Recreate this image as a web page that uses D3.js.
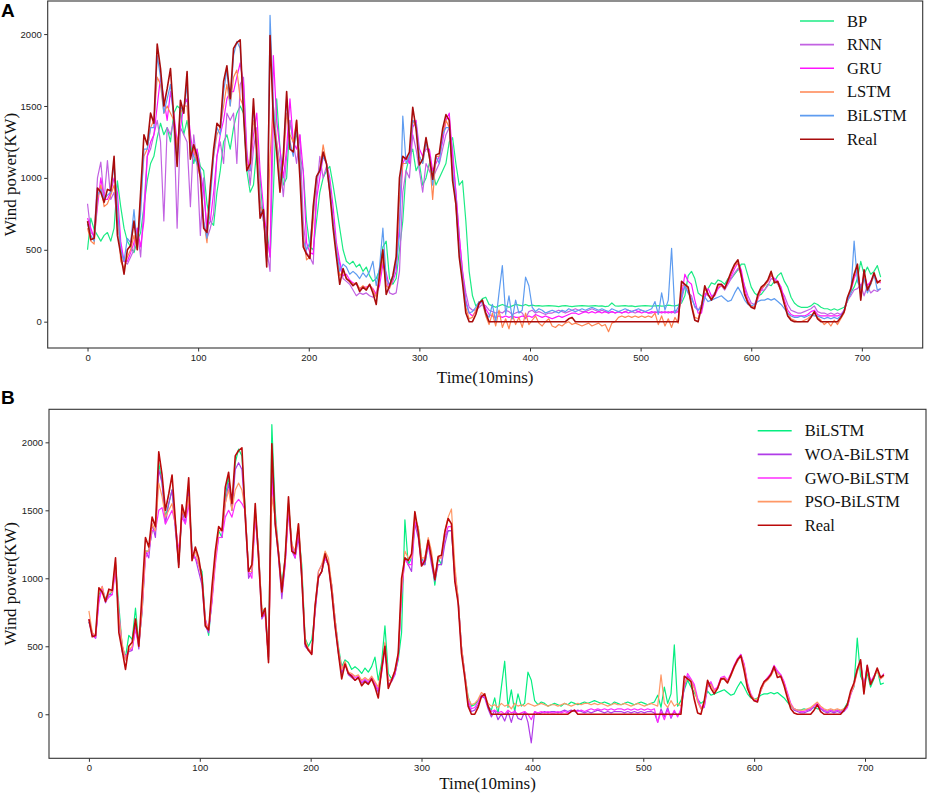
<!DOCTYPE html>
<html>
<head>
<meta charset="utf-8">
<script src="https://cdn.jsdelivr.net/npm/d3@7"></script>
<style>
  body { margin: 0; background: #fff; }
  .tick text { font-family: "Liberation Sans", Arial, sans-serif; font-size: 9.5px; fill: #222; }
  .tick line { stroke: #333; }
  .axisLabel { font-family: "Liberation Serif", "Times New Roman", serif; font-size: 17px; fill: #111; }
  .legendText { font-family: "Liberation Serif", "Times New Roman", serif; font-size: 16.5px; fill: #111; }
  .panelLabel { font-family: "Liberation Sans", Arial, sans-serif; font-size: 19px; font-weight: bold; fill: #000; }
</style>
</head>
<body>
<div id="chart"></div>
<script>
// values, one value every 3 steps (t = 0,3,...,717)
const step = 3;

const real = [
  700,570,580,930,900,830,920,910,1150,600,
  470,330,500,530,700,500,900,1300,1230,1450,
  1380,1930,1760,1500,1620,1760,1420,1080,1540,1450,
  1740,1130,1230,1150,1000,650,620,940,1200,1380,
  1350,1670,1780,1550,1900,1940,1960,1450,1050,1100,
  1550,1150,720,780,380,1990,1400,1180,900,1150,
  1600,1200,1180,1400,1000,520,470,440,800,1010,
  1050,1180,1100,900,650,450,260,370,300,280,
  250,270,210,240,220,260,200,120,330,500,
  190,250,320,450,1000,1150,1130,1180,1490,1340,
  1090,1130,1280,1150,990,1160,1170,1340,1440,1400,
  980,820,450,270,60,0,0,50,130,150,
  60,0,0,0,0,0,0,0,0,0,
  0,0,0,0,0,0,0,0,0,0,
  0,0,0,0,0,20,30,0,0,0,
  0,0,0,0,0,0,0,0,0,0,
  0,0,0,0,0,0,0,0,0,0,
  0,0,0,0,0,0,0,0,0,280,
  260,240,110,10,0,100,250,190,150,190,
  260,260,230,290,350,400,430,320,190,130,
  100,90,190,240,260,290,350,270,280,210,
  120,40,10,0,0,0,0,0,30,70,
  20,0,0,0,0,0,0,30,70,170,
  230,330,400,150,360,220,270,340,270,290
];

const bp = [
  500,720,640,600,560,600,620,560,650,980,
  800,650,560,520,480,560,620,800,980,1100,
  1150,1280,1380,1300,1350,1250,1450,1500,1480,1300,
  1400,1250,1100,1200,1080,1050,820,700,670,900,
  1050,1250,1300,1200,1350,1450,1500,1450,1050,900,
  950,1200,1000,700,650,450,900,1550,1200,950,
  1000,1400,1250,1300,1150,1050,700,520,500,700,
  900,1000,1050,1080,950,800,650,500,420,400,
  420,380,400,350,380,320,280,300,360,520,
  560,300,260,300,500,700,1050,1150,1200,1050,
  1100,950,1000,1100,1050,950,1000,1050,1100,1250,
  1280,1100,950,980,700,350,180,110,130,160,
  170,120,110,100,110,120,110,100,110,120,
  115,110,120,110,115,110,112,108,110,112,
  110,108,105,110,112,108,105,108,110,112,
  110,108,110,112,108,110,105,108,130,110,
  108,110,112,108,110,105,108,110,112,110,
  108,110,112,108,110,115,112,110,115,130,
  180,320,350,300,200,180,170,230,270,260,
  290,280,260,300,300,330,360,400,400,320,
  240,200,180,190,220,260,250,280,320,340,
  280,240,170,130,110,100,100,100,110,130,
  120,100,90,90,80,90,80,90,100,140,
  200,240,300,420,330,380,330,350,390,310
];

const rnn = [
  820,620,600,1000,1110,850,1120,850,900,700,
  520,420,400,450,500,650,450,800,1150,1200,
  1300,1400,1250,700,1350,1300,1400,650,1350,1300,
  1250,800,1300,1100,600,1000,580,650,750,1150,
  1250,1100,1450,1400,1450,1100,1650,1700,1200,950,
  1200,1350,850,700,500,350,1400,1250,1100,870,
  1150,1400,1250,1100,1300,700,480,450,400,900,
  1150,1000,1080,900,700,500,400,300,280,260,
  220,180,200,190,200,180,170,200,300,420,
  300,200,190,200,350,900,1050,1000,1300,1200,
  1050,900,1100,1050,1000,1050,1100,1200,1300,1350,
  1200,900,600,350,200,100,80,80,100,120,
  110,80,70,60,70,60,80,70,50,60,
  70,60,20,70,80,60,70,60,50,60,
  60,70,80,70,60,70,80,90,80,70,
  70,80,90,80,70,80,70,60,70,60,
  70,60,70,80,70,60,70,80,70,60,
  60,70,60,70,60,70,60,80,70,150,
  250,200,180,100,80,120,200,180,170,200,
  230,250,220,260,300,340,370,330,250,180,
  130,120,180,220,220,250,300,290,260,220,
  180,120,80,70,60,60,70,80,90,110,
  70,60,60,50,60,50,60,50,70,150,
  180,220,230,260,180,250,200,220,210,230
];

const gru = [
  720,650,580,800,1000,850,850,900,1000,900,
  560,420,420,480,550,650,520,700,1150,1250,
  1300,1500,1700,1550,1400,1600,1450,1250,1350,1500,
  1550,1300,1150,1200,1050,900,650,700,900,1150,
  1300,1400,1550,1600,1600,1700,1800,1650,1150,1050,
  1300,1450,1050,800,600,450,1850,1400,1200,1000,
  1200,1550,1250,1200,1300,1050,550,480,470,850,
  1000,1150,1100,1000,800,550,420,320,330,290,
  270,260,230,240,240,250,230,190,250,400,
  340,240,280,350,700,1100,1150,1100,1350,1400,
  1200,1150,1200,1200,1050,1100,1150,1250,1400,1450,
  1150,900,600,350,150,60,40,70,120,140,
  90,50,40,30,40,30,40,30,40,30,
  30,40,30,40,30,50,40,30,40,30,
  20,30,40,30,40,50,60,60,50,60,
  70,60,70,60,70,60,70,60,70,60,
  70,60,70,60,70,80,70,60,70,60,
  70,60,70,60,70,60,70,60,70,180,
  330,280,260,150,60,60,170,230,180,180,
  230,260,240,270,320,370,410,360,230,150,
  110,100,160,220,250,280,320,300,280,240,
  150,80,50,40,40,40,40,50,70,80,
  50,40,40,40,40,40,40,50,80,150,
  210,300,360,220,330,250,280,320,280,270
];

const lstm = [
  650,560,540,850,950,800,820,880,950,800,
  420,370,450,500,600,500,850,1150,1200,1350,
  1400,1700,1650,1450,1500,1450,1400,1200,1450,1500,
  1500,1150,1200,1100,1000,700,550,900,1150,1300,
  1350,1500,1650,1500,1700,1750,1550,1500,1100,1050,
  1400,1300,800,750,420,1150,1500,1250,1000,1100,
  1450,1300,1250,1400,1100,600,430,450,700,1000,
  1050,1230,1100,950,700,500,320,350,300,280,
  260,270,230,250,230,260,220,170,300,450,
  250,230,300,420,850,1100,1100,1150,1400,1350,
  1150,1100,1250,1150,850,1150,1150,1300,1400,1350,
  1050,800,500,300,100,20,30,80,140,130,
  40,-20,60,-30,80,-40,20,-50,50,-20,
  30,-40,60,-20,10,40,-10,-30,0,20,
  -30,-40,-20,-30,-10,0,-20,-10,-20,-30,
  -20,-10,-30,-20,-10,-30,-20,-70,-10,0,
  30,40,30,40,30,40,30,40,30,40,
  30,60,-20,40,-30,20,-40,30,-10,250,
  250,230,120,30,20,110,230,190,160,190,
  250,250,230,280,340,390,410,310,200,140,
  110,100,170,230,250,280,330,280,270,210,
  130,60,20,10,0,0,10,20,40,60,
  30,10,-20,0,-30,10,-20,20,60,160,
  220,320,380,180,330,230,260,320,270,280
];

const bilstm = [
  680,600,560,880,920,850,880,900,1100,800,
  500,420,580,550,780,520,750,1200,1200,1350,
  1350,1850,1700,1450,1550,1650,1400,1100,1500,1450,
  1650,1200,1150,1100,1050,700,580,850,1150,1350,
  1300,1600,1750,1500,1850,1950,1900,1500,1050,1050,
  1500,1200,750,780,420,2130,1500,1200,950,1150,
  1550,1250,1150,1350,1100,560,500,550,750,1000,
  1050,1150,1100,950,700,500,350,400,380,330,
  350,330,300,340,310,350,420,250,380,650,
  300,260,300,400,600,1430,1100,1150,1400,1380,
  1150,1100,1250,1150,950,1150,1100,1300,1350,1350,
  1050,850,500,300,130,60,70,100,140,130,
  60,30,120,0,200,390,50,180,20,150,
  60,80,310,250,100,70,90,80,60,70,
  80,70,60,80,70,90,80,70,80,90,
  80,90,100,90,80,90,80,70,90,80,
  70,80,90,80,70,80,90,80,70,80,
  90,140,50,200,80,150,510,60,100,180,
  250,200,160,110,80,100,170,140,150,160,
  170,180,160,140,150,200,240,200,150,120,
  110,120,140,150,150,160,150,160,140,120,
  90,60,40,30,30,40,30,40,50,40,
  40,30,20,30,20,30,20,40,80,150,
  200,560,280,230,300,200,260,330,220,230
];

const woa = [
  680,580,560,850,920,820,880,880,1100,700,
  460,400,460,470,650,480,800,1200,1150,1400,
  1300,1800,1700,1400,1550,1650,1350,1100,1500,1400,
  1650,1150,1150,1050,950,650,600,850,1150,1300,
  1300,1550,1700,1500,1800,1850,1800,1450,1000,1050,
  1450,1150,700,750,400,1800,1400,1150,850,1100,
  1500,1200,1150,1300,1000,500,470,450,780,1050,
  1100,1150,1100,900,650,450,300,380,290,270,
  250,280,230,250,230,270,220,160,320,520,
  220,240,290,420,900,1150,1100,1050,1400,1300,
  1100,1100,1250,1100,980,1100,1100,1250,1350,1350,
  1000,830,480,290,80,20,30,70,130,120,
  40,-20,30,-40,0,-50,20,-60,30,-30,
  -40,20,-60,-210,20,0,10,20,10,20,
  20,10,20,30,20,30,20,30,20,10,
  20,10,20,30,20,10,20,10,20,20,
  20,10,20,10,20,10,20,10,20,20,
  10,-60,40,-20,50,-30,20,-10,20,200,
  280,250,200,100,40,50,200,230,170,190,
  260,270,240,290,350,390,440,360,220,140,
  100,100,170,230,260,290,340,310,290,230,
  150,70,30,20,10,10,20,30,60,80,
  40,20,10,20,10,20,10,20,50,150,
  220,330,380,180,350,240,270,330,270,290
];

const gwo = [
  700,600,560,820,940,830,860,880,1050,750,
  500,420,470,480,620,520,760,1150,1200,1350,
  1350,1500,1520,1400,1450,1500,1400,1200,1450,1400,
  1550,1200,1150,1100,1000,700,620,820,1100,1300,
  1300,1450,1500,1450,1550,1580,1550,1500,1050,1000,
  1450,1200,750,720,420,1700,1450,1200,900,1100,
  1500,1250,1150,1350,1050,520,480,450,750,1000,
  1050,1150,1100,950,700,480,330,380,300,290,
  270,280,240,260,240,270,230,180,300,480,
  250,250,300,420,880,1150,1100,1100,1420,1350,
  1100,1150,1250,1150,1000,1150,1150,1300,1380,1380,
  1050,850,500,300,100,40,50,90,140,130,
  60,20,30,10,20,0,30,10,20,0,
  10,20,0,-40,20,10,20,10,20,10,
  10,20,10,20,10,20,30,20,30,20,
  30,40,30,40,30,40,30,40,30,40,
  40,30,40,30,40,30,40,30,40,30,
  40,-60,20,-40,30,-20,30,-20,40,210,
  300,260,220,120,50,60,220,240,180,200,
  270,280,250,300,360,410,440,370,230,150,
  110,100,180,240,270,300,360,320,290,240,
  160,80,40,30,20,20,30,40,60,80,
  50,30,20,30,20,30,20,30,50,140,
  210,320,390,200,360,240,280,330,260,300
];

const pso = [
  760,600,580,900,940,830,900,900,1120,720,
  520,400,470,500,700,500,780,1200,1200,1400,
  1350,1700,1600,1450,1500,1550,1400,1150,1500,1450,
  1600,1150,1200,1100,1000,680,620,870,1150,1350,
  1350,1550,1650,1500,1650,1700,1650,1500,1050,1050,
  1500,1200,780,760,400,1600,1450,1200,900,1150,
  1550,1250,1200,1400,1050,550,480,460,800,1050,
  1100,1200,1150,950,700,480,330,390,310,300,
  280,290,250,270,250,280,240,200,340,530,
  240,260,320,440,920,1200,1150,1150,1450,1380,
  1150,1150,1300,1200,1000,1150,1150,1350,1450,1510,
  1100,850,500,300,120,70,80,110,160,140,
  80,60,70,50,80,60,70,40,80,60,
  70,60,80,70,60,70,80,70,60,70,
  70,60,70,80,70,60,70,80,70,80,
  80,70,80,70,80,70,60,70,80,70,
  70,80,70,60,70,80,70,60,70,80,
  70,60,290,80,50,100,60,80,60,230,
  260,250,190,90,40,80,220,220,170,190,
  250,270,240,280,340,390,430,350,210,140,
  110,110,170,230,250,280,330,300,280,220,
  140,70,40,30,30,30,40,50,70,90,
  60,40,30,40,30,40,30,40,60,150,
  210,310,380,170,340,220,270,320,260,280
];

const xTicks = [0, 100, 200, 300, 400, 500, 600, 700];
const yTicks = [0, 500, 1000, 1500, 2000];

const seriesA = ["BP", "RNN", "GRU", "LSTM", "BiLSTM", "Real"];
const seriesB = ["BiLSTM", "WOA-BiLSTM", "GWO-BiLSTM", "PSO-BiLSTM", "Real"];

const dataA = [bp, rnn, gru, lstm, bilstm, real];
const dataB = [bilstm, woa, gwo, pso, real];

const colorsA = ["#1ceb84", "#c262e2", "#ff14ff", "#ff8450", "#5e9cf0", "#a80c0c"];
const colorsB = ["#05ee80", "#b03ce8", "#ff2cff", "#ff9866", "#bb0a0a"];

//1. MAKE SVG CANVAS
const width = 927;
const height = 794;

const svg = d3.select("#chart")
    .append("svg")
    .attr("width", width)
    .attr("height", height);

//2. ONE FUNCTION PER PANEL
function drawPanel(p) {

    const xScale = d3.scaleLinear()
        .domain([-36, 755])
        .range([p.left, p.right]);

    const yScale = d3.scaleLinear()
        .domain(p.yDomain)
        .range([p.bottom, p.top]);

    const g = svg.append("g");

    g.append("clipPath")
        .attr("id", "clip" + p.id)
        .append("rect")
            .attr("x", p.left)
            .attr("y", p.top)
            .attr("width", p.right - p.left)
            .attr("height", p.bottom - p.top);

    // axes (plain integers, no thousands comma)
    g.append("g")
        .attr("class", "axis")
        .attr("transform", `translate(0,${p.bottom})`)
        .call(d3.axisBottom(xScale).tickValues(xTicks).tickFormat(d3.format("d")).tickSize(3.5).tickPadding(2.5))
        .call(a => a.select(".domain").remove());

    g.append("g")
        .attr("class", "axis")
        .attr("transform", `translate(${p.left},0)`)
        .call(d3.axisLeft(yScale).tickValues(yTicks).tickFormat(d3.format("d")).tickSize(3.5).tickPadding(2.5))
        .call(a => a.select(".domain").remove());

    // lines
    const line = d3.line()
        .x((d, i) => xScale(i * step))
        .y(d => yScale(d));

    const lines = g.append("g").attr("clip-path", `url(#clip${p.id})`);

    p.data.forEach(function(values, k) {
        lines.append("path")
            .datum(values)
            .attr("d", line)
            .style("fill", "none")
            .style("stroke", p.colors[k])
            .style("stroke-width", k === p.data.length - 1 ? 1.6 : 1.2)
            .style("stroke-linejoin", "round");
    });

    // frame
    g.append("rect")
        .attr("x", p.left)
        .attr("y", p.top)
        .attr("width", p.right - p.left)
        .attr("height", p.bottom - p.top)
        .style("fill", "none")
        .style("stroke", "#333")
        .style("stroke-width", 1.1);

    // legend
    const legend = g.append("g");
    p.names.forEach(function(name, k) {
        const yy = p.legendY + k * 23.65;
        legend.append("line")
            .attr("x1", p.legendX)
            .attr("x2", p.legendX + 34)
            .attr("y1", yy)
            .attr("y2", yy)
            .style("stroke", p.colors[k])
            .style("stroke-width", 1.6);
        legend.append("text")
            .attr("class", "legendText")
            .attr("x", p.legendX + 47)
            .attr("y", yy + 5.5)
            .text(name);
    });

    // labels
    g.append("text")
        .attr("class", "axisLabel")
        .attr("text-anchor", "middle")
        .attr("x", (p.left + p.right) / 2)
        .attr("y", p.xLabelY)
        .text("Time(10mins)");

    g.append("text")
        .attr("class", "axisLabel")
        .attr("text-anchor", "middle")
        .attr("transform", "rotate(-90)")
        .attr("x", -(p.top + p.bottom) / 2)
        .attr("y", 16)
        .text("Wind power(KW)");

    g.append("text")
        .attr("class", "panelLabel")
        .attr("x", 1)
        .attr("y", p.labelY)
        .text(p.id);
}

drawPanel({
    id: "A", left: 47.7, right: 922.7, top: 1, bottom: 348,
    yDomain: [-183, 2230], data: dataA, names: seriesA, colors: colorsA,
    legendX: 800, legendY: 21, xLabelY: 383, labelY: 17
});

drawPanel({
    id: "B", left: 49, right: 926, top: 409.3, bottom: 758.3,
    yDomain: [-324, 2243], data: dataB, names: seriesB, colors: colorsB,
    legendX: 757.7, legendY: 430.7, xLabelY: 789, labelY: 404
});
</script>
</body>
</html>
